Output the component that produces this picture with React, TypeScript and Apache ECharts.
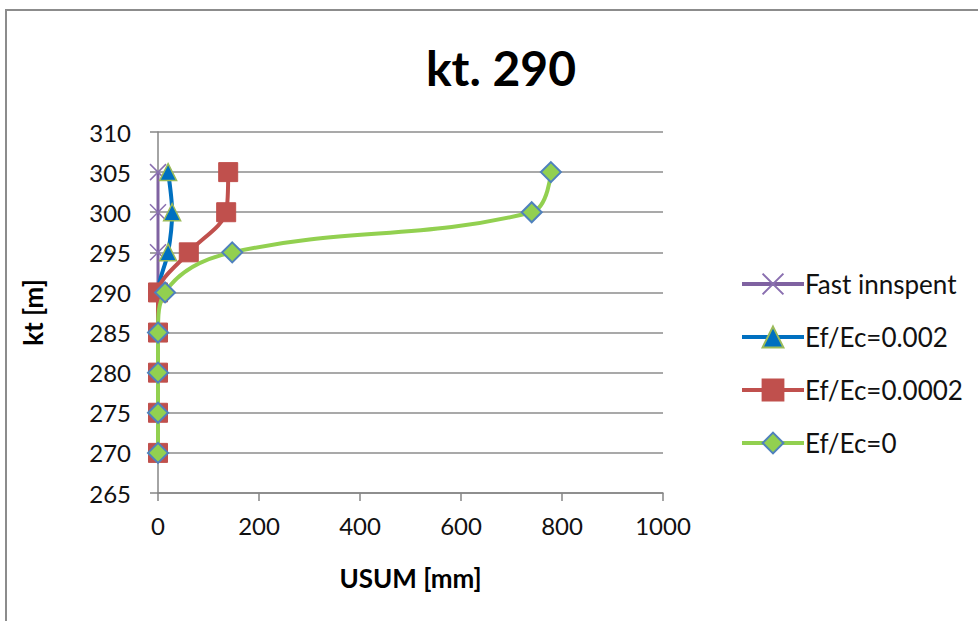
import React, { useEffect, useRef } from "react";
import * as echarts from "echarts";

const levels = [305, 300, 295, 290, 285, 280, 275, 270];
const fastInnspent = [0, 0, 0, 0, 0, 0, 0, 0];
const ef0002 = [20, 28, 20, 0, 0, 0, 0, 0];
const ef00002 = [139, 135, 61, 0, 0, 0, 0, 0];
const ef0 = [778, 740, 147, 14, 0, 0, 0, 0];
const seriesNames = ["Fast innspent", "Ef/Ec=0.002", "Ef/Ec=0.0002", "Ef/Ec=0"];

const pairs = (xs: number[]) => xs.map((x, i) => [x, levels[i]]);

export default function App() {
  const ref = useRef<HTMLDivElement>(null);
  useEffect(() => {
    const chart = echarts.init(ref.current!, null, { renderer: "svg" });
    const font = "Lato, 'Open Sans', sans-serif";
    chart.setOption({
      animation: false,
      backgroundColor: "#fff",
      title: {
        text: "kt. 290",
        left: 496,
        textAlign: "center",
        top: 38,
        textStyle: { fontFamily: font, fontSize: 48, fontWeight: "bold", color: "#000" },
      },
      graphic: [
        { type: "line", shape: { x1: 5, y1: 10, x2: 978, y2: 10 }, style: { stroke: "#8c8c8c", lineWidth: 2 } },
        { type: "line", shape: { x1: 6, y1: 10, x2: 6, y2: 621 }, style: { stroke: "#8c8c8c", lineWidth: 2 } },
      ],
      grid: { left: 158, right: 315, top: 132, bottom: 128 },
      legend: {
        orient: "vertical",
        left: 735,
        top: 266,
        itemWidth: 62,
        itemHeight: 26,
        itemGap: 27,
        lineStyle: { width: 4 },
        textStyle: { fontFamily: font, fontSize: 26, color: "#111", padding: [0, 0, 0, -4] },
        data: seriesNames,
      },
      xAxis: {
        type: "value",
        min: 0,
        max: 1000,
        interval: 200,
        name: "USUM [mm]",
        nameLocation: "middle",
        nameGap: 72,
        nameTextStyle: { fontFamily: font, fontSize: 26, fontWeight: "bold", color: "#000" },
        axisLine: { show: true, lineStyle: { color: "#868686", width: 1.5 } },
        axisTick: { show: true, length: 8, lineStyle: { color: "#868686", width: 1.5 } },
        axisLabel: { fontFamily: font, fontSize: 24, color: "#111", margin: 20, formatter: (v: number) => String(v) },
        splitLine: { show: false },
      },
      yAxis: {
        type: "value",
        min: 265,
        max: 310,
        interval: 5,
        name: "kt [m]",
        nameLocation: "middle",
        nameGap: 112,
        nameRotate: 90,
        nameTextStyle: { fontFamily: font, fontSize: 26, fontWeight: "bold", color: "#000" },
        axisLine: { show: true, onZero: false, lineStyle: { color: "#868686", width: 1.5 } },
        axisTick: { show: true, length: 8, lineStyle: { color: "#868686", width: 1.5 } },
        axisLabel: { fontFamily: font, fontSize: 24, color: "#111", margin: 27 },
        splitLine: { show: true, lineStyle: { color: "#8c8c8c", width: 1.5 } },
      },
      series: [
        {
          name: seriesNames[0],
          type: "line",
          data: pairs(fastInnspent),
          smooth: 0.3,
          lineStyle: { color: "#7f62a1", width: 3 },
          symbol: "path://M0,0L10,10M10,0L0,10",
          symbolSize: 16,
          itemStyle: { color: "rgba(0,0,0,0)", borderColor: "#8a6fb0", borderWidth: 1.5 },
          z: 2,
        },
        {
          name: seriesNames[1],
          type: "line",
          data: pairs(ef0002),
          smooth: 0.3,
          lineStyle: { color: "#0070c0", width: 4 },
          symbol: "triangle",
          symbolSize: 17,
          itemStyle: { color: "#0070c0", borderColor: "#9bbb59", borderWidth: 1.5 },
          z: 3,
        },
        {
          name: seriesNames[2],
          type: "line",
          data: pairs(ef00002),
          smooth: 0.3,
          lineStyle: { color: "#c0504d", width: 4 },
          symbol: "rect",
          symbolSize: 19,
          itemStyle: { color: "#c0504d", borderColor: "#c0504d", borderWidth: 1 },
          z: 4,
        },
        {
          name: seriesNames[3],
          type: "line",
          data: pairs(ef0),
          smooth: 0.4,
          lineStyle: { color: "#92d050", width: 4 },
          symbol: "diamond",
          symbolSize: 20,
          itemStyle: { color: "#92d050", borderColor: "#4f81bd", borderWidth: 2 },
          z: 5,
        },
      ],
    });
    return () => chart.dispose();
  }, []);
  return (
    <div
      ref={ref}
      style={{ position: "fixed", left: 0, top: 0, width: 978, height: 621 }}
    />
  );
}
